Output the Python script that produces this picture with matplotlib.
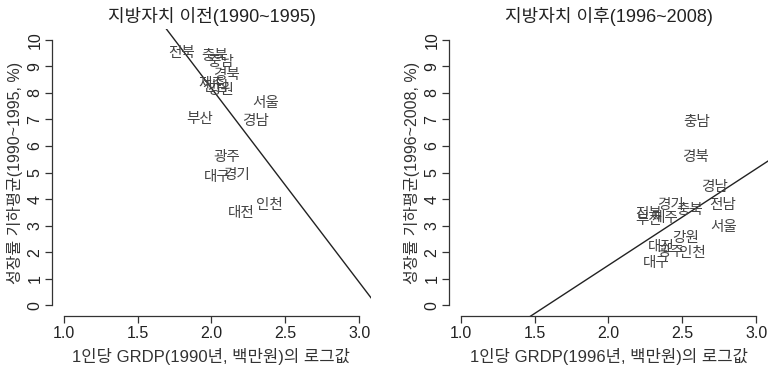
import matplotlib
matplotlib.use("Agg")
import matplotlib.pyplot as plt

plt.rcParams['font.family'] = ['Liberation Sans', 'Noto Sans CJK KR', 'DejaVu Sans']

# 1990~1995 (before local autonomy)
regions_before = ['전북', '충북', '충남', '경북', '제주', '전남', '강원', '서울',
                  '부산', '경남', '광주', '대구', '경기', '대전', '인천']
gdp_before = [1.80, 2.02, 2.06, 2.10, 2.00, 2.03, 2.06, 2.37,
              1.92, 2.30, 2.10, 2.04, 2.17, 2.20, 2.39]
growth_before = [9.51, 9.40, 9.17, 8.68, 8.34, 8.23, 8.11, 7.62,
                 7.02, 6.94, 5.58, 4.83, 4.91, 3.47, 3.77]
fit_before = (22.77, -7.3)   # intercept, slope

# 1996~2008 (after local autonomy)
regions_after = ['충남', '경북', '경남', '전남', '서울', '경기', '충북', '전북',
                 '부산', '제주', '강원', '대전', '광주', '인천', '대구']
gdp_after = [2.60, 2.59, 2.72, 2.77, 2.78, 2.42, 2.55, 2.27,
             2.27, 2.38, 2.52, 2.36, 2.42, 2.57, 2.32]
growth_after = [6.91, 5.58, 4.45, 3.77, 2.94, 3.77, 3.58, 3.43,
                3.21, 3.28, 2.53, 2.19, 2.00, 1.96, 1.58]
fit_after = (-5.75, 3.63)

x_ticks = [1.0, 1.5, 2.0, 2.5, 3.0]
y_ticks = list(range(0, 11))

panels = [
    dict(title='지방자치 이전(1990~1995)', xlabel='1인당 GRDP(1990년, 백만원)의 로그값',
         ylabel='성장률 기하평균(1990~1995, %)', names=regions_before,
         x=gdp_before, y=growth_before, fit=fit_before),
    dict(title='지방자치 이후(1996~2008)', xlabel='1인당 GRDP(1996년, 백만원)의 로그값',
         ylabel='성장률 기하평균(1996~2008, %)', names=regions_after,
         x=gdp_after, y=growth_after, fit=fit_after),
]

fig = plt.figure(figsize=(7.69, 3.66), dpi=100)
lefts = [52 / 769, 449 / 769]
W, H = 769, 366
for left, p in zip(lefts, panels):
    ax = fig.add_axes([left, (H - 316) / H, 319 / W, 287 / H])
    ax.set_xlim(0.92, 3.08)
    ax.set_ylim(-0.4, 10.4)
    for name, xv, yv in zip(p['names'], p['x'], p['y']):
        ax.text(xv, yv, name, ha='center', va='center', fontsize=10.5,
                color='#444444', family=['Noto Sans CJK KR'])
    b0, b1 = p['fit']
    xs = [0.92, 3.08]
    ax.plot(xs, [b0 + b1 * v for v in xs], color='#222222', lw=1.0)
    for s in ['top', 'right']:
        ax.spines[s].set_visible(False)
    ax.spines['bottom'].set_bounds(1.0, 3.0)
    ax.spines['left'].set_bounds(0, 10)
    for s in ['bottom', 'left']:
        ax.spines[s].set_color('#333333')
        ax.spines[s].set_linewidth(0.9)
    ax.set_xticks(x_ticks)
    ax.set_xticklabels([f'{v:.1f}' for v in x_ticks])
    ax.set_yticks(y_ticks)
    ax.set_yticklabels([str(v) for v in y_ticks], rotation=90, va='center')
    ax.tick_params(length=5, width=0.9, color='#333333', labelsize=11.5,
                   labelcolor='#222222', pad=2)
    ax.set_title(p['title'], fontsize=13, color='#222222', pad=5)
    ax.set_xlabel(p['xlabel'], fontsize=12, color='#333333', labelpad=5)
    ax.set_ylabel(p['ylabel'], fontsize=11.5, color='#333333', labelpad=3)

fig.savefig('out.png', dpi=100)
